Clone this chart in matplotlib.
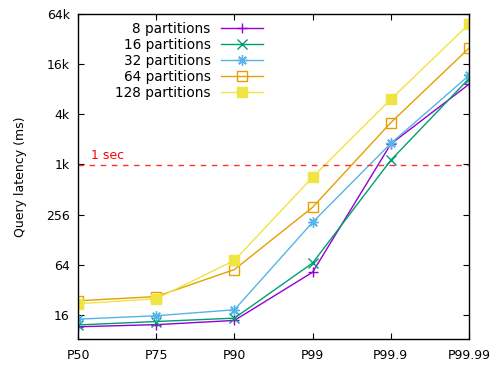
import matplotlib
matplotlib.use('Agg')
import matplotlib.pyplot as plt
import numpy as np

percentiles = ['P50', 'P75', 'P90', 'P99', 'P99.9', 'P99.99']

p8 = [11.5, 12.2, 13.7, 52, 1800, 9400]
p16 = [12.1, 13.3, 14.6, 67, 1150, 11000]
p32 = [14.2, 15.6, 18.4, 207, 1830, 12000]
p64 = [23.6, 26.5, 56, 313, 3250, 25500]
p128 = [21.7, 25, 72, 720, 6200, 49600]

series = [
    ('8 partitions', p8, '#9400d3', '+', 'full'),
    ('16 partitions', p16, '#009e73', 'x', 'full'),
    ('32 partitions', p32, '#56b4e9', (8, 2, 0), 'full'),
    ('64 partitions', p64, '#e69f00', 's', 'none'),
    ('128 partitions', p128, '#f0e442', 's', 'full'),
]

yticks = [16, 64, 256, 1024, 4096, 16384, 65536]
ytick_labels = ['16', '64', '256', '1k', '4k', '16k', '64k']

plt.rcParams['font.size'] = 9
fig = plt.figure(figsize=(5, 3.65), dpi=100)
ax = fig.add_axes([0.156, 0.0712, 0.782, 0.8904])

x = np.arange(len(percentiles))
for label, vals, color, marker, fill in series:
    ax.plot(x, vals, color=color, lw=1.0, marker=marker, markersize=7.5,
            fillstyle=fill, markeredgewidth=1.0, label=label)

ax.axhline(1000, color='#ff3030', lw=1.0, dashes=(4, 4))
ax.text(0.17, 1000 * 1.1, '1 sec', color='#ff0000', ha='left', va='bottom')

ax.set_yscale('log', base=2)
ax.set_ylim(8.2, 65536)
ax.set_xlim(0, len(percentiles) - 1)
ax.set_yticks(yticks)
ax.set_yticklabels(ytick_labels)
ax.minorticks_off()
ax.set_xticks(x)
ax.set_xticklabels(percentiles)
ax.tick_params(direction='in', length=4.3, width=0.8, top=True, right=True,
               pad=6)
ax.tick_params(axis='x', pad=7)
for s in ax.spines.values():
    s.set_linewidth(1.0)
ax.set_ylabel('Query latency (ms)')
ax.yaxis.set_label_coords(-0.13, 0.5)

leg = ax.legend(loc='upper left', bbox_to_anchor=(0.074, 1.0), frameon=False,
                markerfirst=False, handlelength=3.1, handletextpad=0.75,
                labelspacing=0.14, borderaxespad=0.2, fontsize=9.8)
for t in leg.get_texts():
    t.set_ha('right')

fig.savefig('out.png', dpi=100)
